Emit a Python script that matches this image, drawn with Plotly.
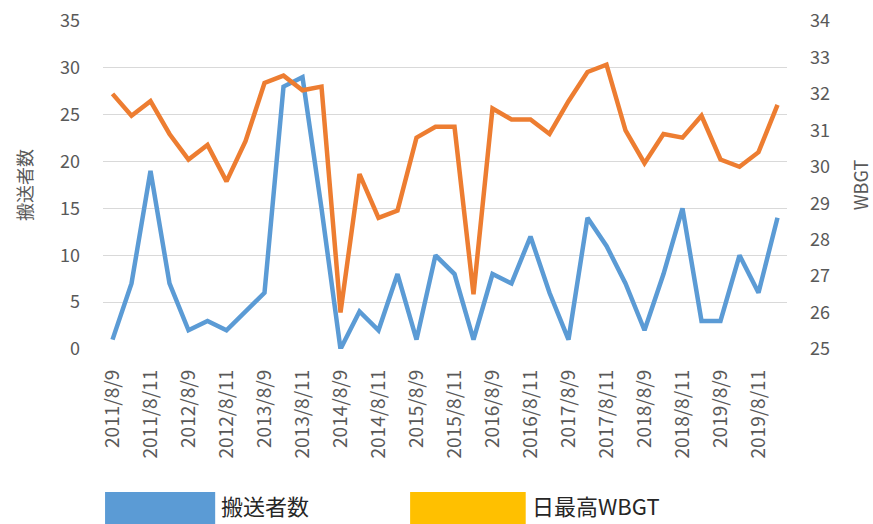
import plotly.graph_objects as go

years = list(range(2011, 2020))
days = [9, 10, 11, 12]
categories = [f"{y}/8/{d}" for y in years for d in days]
tick_labels = [c for c in categories if c.endswith("/9") or c.endswith("/11")]

transported = [1, 7, 19, 7, 2, 3, 2, 4, 6, 28, 29, 15,
               0, 4, 2, 8, 1, 10, 8, 1, 8, 7, 12, 6,
               1, 14, 11, 7, 2, 8, 15, 3, 3, 10, 6, 14]
wbgt = [32.0, 31.4, 31.8, 30.9, 30.2, 30.6, 29.6, 30.7, 32.3, 32.5, 32.1, 32.2,
        26.0, 29.8, 28.6, 28.8, 30.8, 31.1, 31.1, 26.5, 31.6, 31.3, 31.3, 30.9,
        31.8, 32.6, 32.8, 31.0, 30.1, 30.9, 30.8, 31.4, 30.2, 30.0, 30.4, 31.7]

series_names = ["搬送者数", "日最高WBGT"]
line_colors = ["#5B9BD5", "#ED7D31"]
legend_colors = ["#5B9BD5", "#FFC000"]

FONT = "Noto Sans CJK JP"
GRAY = "#595959"

fig = go.Figure()
fig.add_trace(go.Scatter(x=categories, y=transported, mode="lines", name=series_names[0],
                         line=dict(color=line_colors[0], width=4.5), yaxis="y"))
fig.add_trace(go.Scatter(x=categories, y=wbgt, mode="lines", name=series_names[1],
                         line=dict(color=line_colors[1], width=4.5), yaxis="y2"))

fig.update_layout(
    width=873, height=524,
    margin=dict(l=103, r=86, t=21, b=175, autoexpand=False),
    paper_bgcolor="white", plot_bgcolor="white",
    showlegend=False,
    font=dict(family=FONT, color=GRAY),
    xaxis=dict(type="category", range=[-0.5, 35.5], tickmode="array",
               tickvals=tick_labels, ticktext=tick_labels, tickangle=-90,
               showgrid=False, showline=False, zeroline=False, automargin=False,
               tickfont=dict(size=19, color=GRAY), ticklabelstandoff=16),
    yaxis=dict(range=[0, 35], dtick=5, showgrid=True, gridcolor="#D9D9D9", gridwidth=1,
               zeroline=False, showline=False, automargin=False,
               tickfont=dict(size=18, color=GRAY), ticklabelstandoff=22,
               title=dict(text="搬送者数", font=dict(size=18, color=GRAY), standoff=22)),
    yaxis2=dict(range=[25, 34], dtick=1, overlaying="y", side="right", showgrid=False,
                zeroline=False, showline=False, automargin=False,
                tickfont=dict(size=18, color=GRAY), ticklabelstandoff=22,
                title=dict(text="WBGT", font=dict(size=18, color=GRAY), standoff=27)),
)

legend_boxes = [(0.003, 0.164), (0.449, 0.618)]
for (x0, x1), col, name in zip(legend_boxes, legend_colors, series_names):
    fig.add_shape(type="rect", xref="paper", yref="paper", x0=x0, x1=x1,
                  y0=-0.54, y1=-0.436, fillcolor=col, line=dict(width=0), layer="above")
    fig.add_annotation(xref="paper", yref="paper", x=x1 + 0.006, y=-0.477,
                       xanchor="left", yanchor="middle", text=name, showarrow=False,
                       font=dict(size=22, color="#262626", family=FONT))

fig.write_html("out.html", config={"displayModeBar": False},
               post_script="document.body.style.margin='0';document.body.style.overflow='hidden';")
